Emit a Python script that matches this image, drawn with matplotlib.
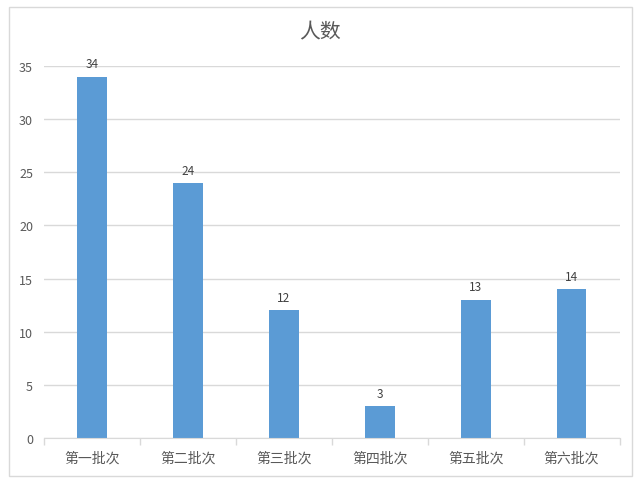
import matplotlib.pyplot as plt
from matplotlib.patches import Rectangle
import numpy as np

plt.rcParams['font.family'] = ['Noto Sans CJK SC', 'DejaVu Sans']

categories = ['第一批次', '第二批次', '第三批次', '第四批次', '第五批次', '第六批次']
values = [34, 24, 12, 3, 13, 14]
title = '人数'

bar_color = '#5B9BD5'
text_color = '#595959'
grid_color = '#D9D9D9'

fig = plt.figure(figsize=(6.4, 4.81), dpi=100)
ax = fig.add_axes([0.069, 0.0873, 0.899, 0.7734])

x = np.arange(len(categories))
ax.bar(x, values, width=0.31, color=bar_color, zorder=3)
for xi, v in zip(x, values):
    ax.text(xi, v + 0.6, str(v), ha='center', va='bottom', fontsize=8.5, color='#404040')

ax.set_xlim(-0.5, len(categories) - 0.5)
ax.set_ylim(0, 35)
ax.set_yticks(range(0, 36, 5))
ax.set_xticks(x)
ax.set_xticklabels(categories)
ax.set_xticks(np.arange(-0.5, len(categories), 1), minor=True)
ax.tick_params(axis='x', which='major', length=0, pad=9, labelsize=10, labelcolor=text_color)
ax.tick_params(axis='x', which='minor', length=5, color=grid_color, width=1)
ax.tick_params(axis='y', length=0, pad=8, labelsize=9, labelcolor=text_color)

ax.grid(axis='y', color=grid_color, linewidth=1, zorder=0)
for s in ['top', 'right', 'left']:
    ax.spines[s].set_visible(False)
ax.spines['bottom'].set_color(grid_color)
ax.spines['bottom'].set_zorder(4)

fig.text(0.5, 0.933, title, ha='center', va='center', fontsize=15, color=text_color)

fig.patches.append(Rectangle((9 / 640, 1 - 477 / 481), 623 / 640, 469 / 481,
                             transform=fig.transFigure, fill=False,
                             edgecolor='#D9D9D9', linewidth=1))

plt.savefig('out.png')
